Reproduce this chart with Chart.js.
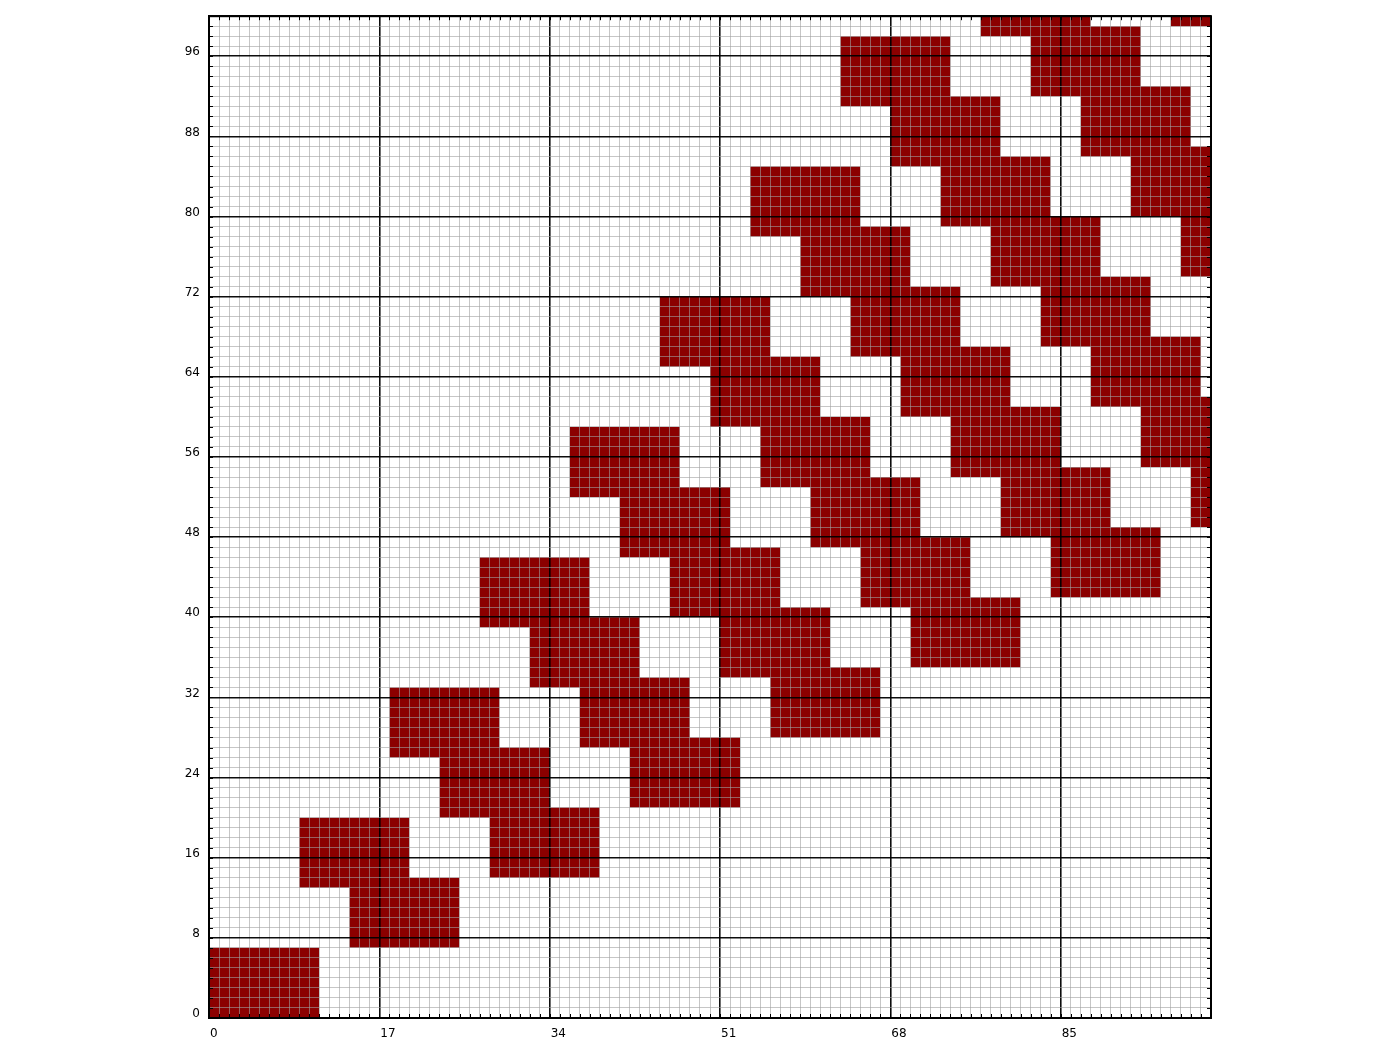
<!DOCTYPE html>
<html>
<head>
<meta charset="utf-8">
<script src="https://cdn.jsdelivr.net/npm/chart.js@4/dist/chart.umd.min.js"></script>
<style>
html, body { margin: 0; padding: 0; background: #ffffff; }
#wrap { width: 1400px; height: 1048px; position: relative; }
</style>
</head>
<body>
<div id="wrap"><canvas id="c"></canvas></div>
<script>
// Lower-left corner (column, row) of each dense 11 x 7 block of the sparse matrix
const blockCols = [0, 9, 14, 18, 23, 28, 27, 32, 37, 42, 36, 41, 46, 51, 56,
  45, 50, 55, 60, 65, 70, 54, 59, 64, 69, 74, 79, 84,
  63, 68, 73, 78, 83, 88, 93, 98, 77, 82, 87, 92, 97, 96];
const blockRows = [0, 13, 7, 26, 20, 14, 39, 33, 27, 21, 52, 46, 40, 34, 28,
  65, 59, 53, 47, 41, 35, 78, 72, 66, 60, 54, 48, 42,
  91, 85, 79, 73, 67, 61, 55, 49, 98, 92, 86, 80, 74, 99];
const blockWidth = 11;   // columns per block
const blockHeight = 7;   // rows per block
const matrixSize = 100;
const xTickLabels = [0, 17, 34, 51, 68, 85];
const yTickLabels = [0, 8, 16, 24, 32, 40, 48, 56, 64, 72, 80, 88, 96];

const BLOCK_COLOR = '#8b0000';
const MINOR_GRID = 'rgba(160,160,160,0.6)';
const MAJOR_GRID = 'rgba(0,0,0,0.95)';
const FONT = { family: 'DejaVu Sans', size: 12 };

const datasets = blockCols.map((c, i) => ({
  data: [
    { x: c, y: blockRows[i] + blockHeight },
    { x: c + blockWidth, y: blockRows[i] + blockHeight }
  ],
  fill: { value: blockRows[i] },
  backgroundColor: BLOCK_COLOR,
  borderColor: 'rgba(0,0,0,0)',
  borderWidth: 0,
  pointRadius: 0,
  pointHoverRadius: 0,
  tension: 0
}));

function isMajor(list, v) { return list.includes(v) || v === matrixSize; }

const framePlugin = {
  id: 'frame',
  afterDraw(chart) {
    const { ctx, chartArea: a, scales: { x, y } } = chart;
    ctx.save();
    ctx.strokeStyle = '#000';
    ctx.lineWidth = 1;
    ctx.beginPath();
    for (let v = 0; v <= matrixSize; v++) {
      const px = Math.round(x.getPixelForValue(v)) + 0.5;
      ctx.moveTo(px, a.bottom); ctx.lineTo(px, a.bottom - 4);
      ctx.moveTo(px, a.top); ctx.lineTo(px, a.top + 4);
      const py = Math.round(y.getPixelForValue(v)) + 0.5;
      ctx.moveTo(a.left, py); ctx.lineTo(a.left + 4, py);
      ctx.moveTo(a.right, py); ctx.lineTo(a.right - 4, py);
    }
    ctx.stroke();
    ctx.lineWidth = 2;
    ctx.strokeRect(a.left, a.top, a.right - a.left, a.bottom - a.top);
    ctx.restore();
  }
};

new Chart(document.getElementById('c'), {
  type: 'line',
  data: { datasets },
  plugins: [framePlugin],
  options: {
    responsive: true,
    maintainAspectRatio: false,
    devicePixelRatio: 1,
    animation: false,
    events: [],
    layout: { padding: { left: 0, right: 189, top: 16, bottom: 0 } },
    plugins: { legend: { display: false }, tooltip: { enabled: false } },
    scales: {
      x: {
        type: 'linear', min: 0, max: matrixSize,
        afterFit(s) { s.height = 30; },
        ticks: {
          stepSize: 1, maxTicksLimit: 101, autoSkip: false, maxRotation: 0, minRotation: 0,
          align: 'start', labelOffset: 1, padding: 9, color: '#000', font: FONT,
          callback: v => xTickLabels.includes(v) ? String(v) : ''
        },
        grid: {
          z: 1, drawTicks: false,
          color: c => isMajor(xTickLabels, c.tick.value) ? MAJOR_GRID : MINOR_GRID,
          lineWidth: c => isMajor(xTickLabels, c.tick.value) ? 1.6 : 1
        },
        border: { display: true, color: '#000', width: 2, z: 2 }
      },
      y: {
        type: 'linear', min: 0, max: matrixSize,
        afterFit(s) { s.width = 209; },
        ticks: {
          stepSize: 1, maxTicksLimit: 101, autoSkip: false,
          labelOffset: -4, padding: 9, color: '#000', font: FONT,
          callback: v => yTickLabels.includes(v) ? String(v) : ''
        },
        grid: {
          z: 1, drawTicks: false,
          color: c => isMajor(yTickLabels, c.tick.value) ? MAJOR_GRID : MINOR_GRID,
          lineWidth: c => isMajor(yTickLabels, c.tick.value) ? 1.6 : 1
        },
        border: { display: true, color: '#000', width: 2, z: 2 }
      }
    }
  }
});
</script>
</body>
</html>
